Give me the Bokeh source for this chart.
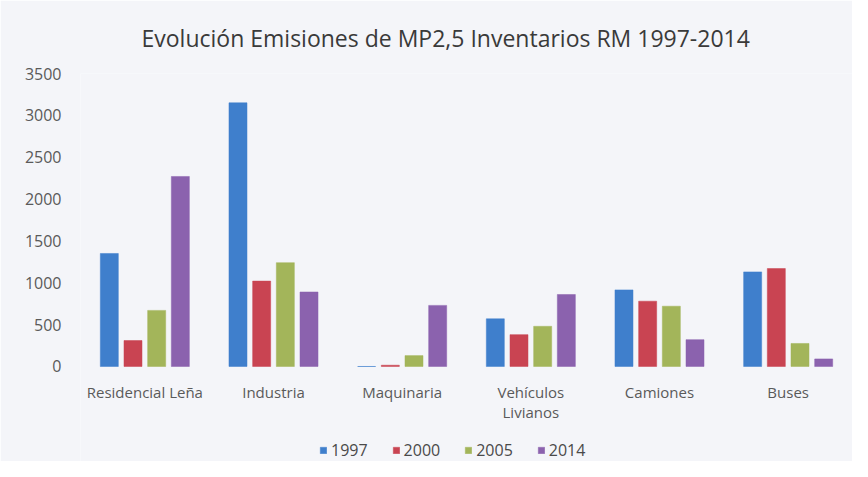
from bokeh.plotting import figure
from bokeh.models import FactorRange, Range1d, FixedTicker, Legend, LegendItem, ColumnDataSource
from bokeh.transform import dodge
from bokeh.embed import file_html
from bokeh.resources import INLINE

categories = ["Residencial Leña", "Industria", "Maquinaria", "Vehículos\nLivianos", "Camiones", "Buses"]
years = ["1997", "2000", "2005", "2014"]
v1997 = [1350, 3150, 0, 570, 915, 1130]
v2000 = [310, 1020, 15, 380, 780, 1170]
v2005 = [670, 1240, 130, 480, 720, 275]
v2014 = [2270, 890, 730, 860, 320, 90]
y_ticks = [0, 500, 1000, 1500, 2000, 2500, 3000, 3500]

colors = ["#3f7fcc", "#c94452", "#a3b55a", "#8b62ae"]
offsets = [-0.276, -0.092, 0.092, 0.276]

src = ColumnDataSource(dict(cat=categories, y1997=v1997, y2000=v2000, y2005=v2005, y2014=v2014))

# frame runs to the bottom edge; the value axis range extends below 0 so the
# category labels and the legend sit in the lower band, as in the reference
p = figure(frame_width=772, frame_height=388, output_backend="svg", toolbar_location=None,
           x_range=FactorRange(*categories, range_padding=0), y_range=Range1d(-1135, 3500),
           min_border_left=80, min_border_right=0, min_border_top=73, min_border_bottom=0)

p.background_fill_color = "#f4f5f9"
p.border_fill_color = "#f4f5f9"
p.outline_line_color = None

items = []
for yr, col, off in zip(years, colors, offsets):
    r = p.vbar(x=dodge("cat", off, range=p.x_range), top="y" + yr, width=0.14, source=src,
               fill_color=col, line_color=col, line_width=0.5)
    items.append(LegendItem(label=yr, renderers=[r]))

p.title.text = "Evolución Emisiones de MP2,5 Inventarios RM 1997-2014"
p.title.text_font = "Open Sans"
p.title.text_font_size = "23px"
p.title.text_font_style = "normal"
p.title.text_color = "#3a3a3a"
p.title.align = "left"
p.title.vertical_align = "top"
p.title.offset = 61
p.title.standoff = 36

p.xgrid.grid_line_color = None
p.ygrid.grid_line_color = None

p.yaxis.ticker = FixedTicker(ticks=y_ticks)
p.yaxis.axis_line_color = None
p.yaxis.major_tick_line_color = None
p.yaxis.minor_tick_line_color = None
p.yaxis.major_label_text_font = "Open Sans"
p.yaxis.major_label_text_font_size = "16px"
p.yaxis.major_label_text_color = "#5a5a5a"
p.yaxis.major_label_standoff = 13

p.xaxis.fixed_location = 0
p.xaxis.axis_line_color = None
p.xaxis.major_tick_line_color = None
p.xaxis.major_tick_out = 0
p.xaxis.major_tick_in = 0
p.xaxis.major_label_text_font = "Open Sans"
p.xaxis.major_label_text_font_size = "15px"
p.xaxis.major_label_text_color = "#5a5a5a"
p.xaxis.major_label_text_line_height = 1.0
p.xaxis.major_label_standoff = 16

legend = Legend(items=items, orientation="horizontal", location=(239, 0),
                border_line_color=None, background_fill_alpha=0,
                label_text_font="Open Sans", label_text_font_size="16px",
                label_text_color="#4a4a4a", glyph_width=8, glyph_height=8,
                label_height=8, spacing=24, label_standoff=4, margin=0, padding=2)
p.add_layout(legend, "center")

open("out.html", "w").write(file_html(p, INLINE))
